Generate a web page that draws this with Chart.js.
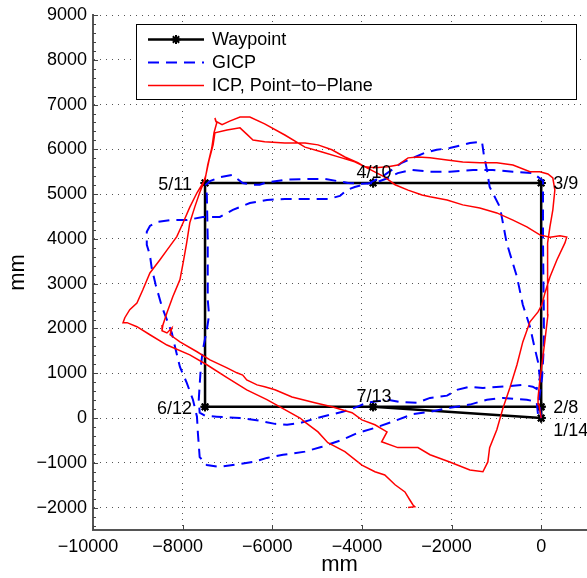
<!DOCTYPE html>
<html>
<head>
<meta charset="utf-8">
<title>Waypoint / GICP / ICP trajectories</title>
<script src="https://cdn.jsdelivr.net/npm/chart.js"></script>
<style>
  html, body { margin: 0; padding: 0; background: #fff; overflow: hidden; }
  #wrap { width: 587px; height: 578px; }
</style>
</head>
<body>
<div id="wrap"><canvas id="trajChart" width="587" height="578"></canvas></div>
<script>
/*
 * data (mm)
 */
const xTicks = [-10000, -8000, -6000, -4000, -2000, 0];
const yTicks = [-2000, -1000, 0, 1000, 2000, 3000, 4000, 5000, 6000, 7000, 8000, 9000];

// waypoints in the order they were visited (two laps)
const waypointPath = [
	[0, 0], [0, 250], [0, 5250], [-3750, 5250], [-7500, 5250], [-7500, 250], [-3750, 250],
	[0, 250], [0, 5250], [-3750, 5250], [-7500, 5250], [-7500, 250], [-3750, 250], [0, 0]
];
const waypointNames = ['1/14', '2/8', '3/9', '4/10', '5/11', '6/12', '7/13'];

// GICP estimate
const gicpPath = [
	[0, 0], [-50, 400], [20, 900], [60, 1600], [60, 2300], [50, 3100], [40, 4000], [40, 4800], [40, 5300],
	[-185, 5470], [-630, 5500], [-1080, 5540], [-1520, 5540], [-2040, 5500], [-2480, 5500], [-2890, 5540],
	[-3200, 5470], [-3420, 5360], [-3710, 5250], [-4000, 5230], [-4310, 5250], [-4540, 5290], [-4830, 5340],
	[-5210, 5340], [-5720, 5320], [-6170, 5250], [-6280, 5210], [-6430, 5210], [-6660, 5250], [-6900, 5430],
	[-7170, 5380], [-7390, 5290], [-7480, 5210],
	[-7460, 4980], [-7440, 3980], [-7440, 2640], [-7410, 2300], [-7460, 1970], [-7550, 1520], [-7590, 1190],
	[-7620, 740], [-7640, 410], [-7620, 120], [-7500, 50], [-7240, 30], [-6720, 0], [-6280, -60], [-5940, -130],
	[-5670, -150], [-5380, -110], [-5000, 0], [-4720, 70], [-4430, 140], [-4110, 250], [-3890, 340], [-3440, 410],
	[-3150, 360], [-2770, 340], [-2480, 450], [-2100, 500], [-1880, 630], [-1590, 700], [-1300, 670], [-920, 700],
	[-410, 740], [-190, 700], [-100, 650],
	[-30, 900], [-70, 1250], [-160, 1630], [-250, 2040], [-410, 2530], [-540, 3150], [-770, 3910], [-920, 4710],
	[-1150, 5160], [-1210, 5540], [-1280, 5880], [-1320, 6170],
	[-1590, 6140], [-1750, 6100], [-2040, 6030], [-2330, 5990], [-2600, 5920], [-3110, 5700], [-3490, 5430],
	[-3820, 5250], [-4160, 5160], [-4340, 5090], [-4490, 4960], [-4760, 4890], [-5380, 4890], [-5720, 4890],
	[-6120, 4870], [-6500, 4800], [-6880, 4650], [-7170, 4490], [-7550, 4490], [-7910, 4420], [-8280, 4420],
	[-8570, 4380], [-8730, 4290], [-8800, 4160],
	[-8800, 3870], [-8730, 3640], [-8690, 3350], [-8600, 2970], [-8460, 2480], [-8350, 2190], [-8240, 1900],
	[-8170, 1590], [-8060, 1140], [-7910, 790], [-7770, 410], [-7680, 30], [-7660, -330], [-7620, -870],
	[-7460, -1050], [-7170, -1090], [-6880, -1050], [-6430, -980], [-6120, -890], [-5760, -820], [-5270, -750],
	[-4890, -640], [-4450, -490], [-4090, -330], [-3710, -220], [-3260, -60], [-2860, 90], [-2480, 140],
	[-2040, 230], [-1590, 300], [-1210, 410], [-850, 450], [-320, 410], [-100, 360], [-70, 70]
];

// ICP (point-to-plane) estimate
const icpPath = [
	[0, 0], [-50, 300], [-70, 450], [-30, 850], [15, 1190], [80, 1700], [150, 2300], [130, 2860], [150, 3460],
	[150, 3910], [195, 4270], [260, 4650], [305, 5090], [260, 5360], [150, 5450], [-30, 5500], [-250, 5500],
	[-630, 5650], [-990, 5700], [-1370, 5700], [-1750, 5720], [-2100, 5760], [-2480, 5810], [-2750, 5830],
	[-2970, 5810], [-3200, 5650], [-3420, 5610], [-3710, 5590], [-3930, 5610], [-4090, 5700], [-4380, 5830],
	[-4670, 5990], [-4980, 6100], [-5270, 6140], [-5720, 6140], [-6170, 6170], [-6430, 6210], [-6570, 6340],
	[-6720, 6480], [-7010, 6430], [-7280, 6370], [-7320, 6100], [-7410, 5760], [-7480, 5430], [-7550, 5210],
	[-7620, 5030], [-7730, 4710], [-7840, 4360], [-7910, 3910], [-7990, 3460], [-8060, 3090], [-8220, 2710],
	[-8350, 2350], [-8440, 2080], [-8460, 1950], [-8350, 1900], [-8240, 2010], [-8280, 1860], [-8060, 1700],
	[-7680, 1480], [-7390, 1300], [-7010, 1120], [-6790, 1010], [-6660, 960], [-6570, 850], [-6340, 740],
	[-6170, 700], [-5940, 630], [-5560, 470], [-5050, 340], [-4670, 250], [-4220, 120], [-4000, -40],
	[-3710, -150], [-3440, -310], [-3560, -530], [-3200, -660], [-2750, -660], [-2480, -820], [-2040, -980],
	[-1590, -1160], [-1300, -1200], [-1190, -980], [-1150, -660], [-990, -260], [-850, 230], [-700, 670],
	[-540, 1190], [-410, 1700], [-250, 2150], [-70, 2370], [15, 2530], [85, 2800], [195, 3150], [350, 3530],
	[530, 3910], [570, 4040], [420, 4070], [195, 4040], [-30, 4090], [-320, 4270], [-630, 4420], [-990, 4580],
	[-1370, 4690], [-1750, 4760], [-2100, 4870], [-2480, 4940], [-2660, 4980], [-2970, 5090], [-3260, 5210],
	[-3490, 5380], [-3930, 5610], [-4160, 5720], [-4450, 5810], [-4890, 5940], [-5270, 6050], [-5720, 6320],
	[-6170, 6570], [-6500, 6720], [-6720, 6720], [-6950, 6630], [-7120, 6550], [-7260, 6630], [-7280, 6700],
	[-7240, 6590], [-7300, 6370], [-7350, 6030], [-7440, 5650], [-7500, 5320], [-7570, 5210], [-7680, 5030],
	[-7840, 4710], [-7990, 4360], [-8130, 4050], [-8350, 3750], [-8510, 3530], [-8730, 3240], [-8890, 2860],
	[-9020, 2570], [-9180, 2420], [-9290, 2240], [-9330, 2130], [-9240, 2130], [-9020, 2040], [-8730, 1860],
	[-8350, 1630], [-7840, 1410], [-7460, 1190], [-7010, 900], [-6570, 630], [-6120, 410], [-5380, 0],
	[-5270, -90], [-4980, -310], [-4760, -550], [-4380, -750], [-4000, -1050], [-3710, -1200], [-3490, -1270],
	[-3260, -1490], [-3040, -1650], [-2930, -1830], [-2860, -1940], [-2820, -1980], [-2970, -2000]
];


/*
 * helpers
 */
const FONT = '"Liberation Sans", Arial, Helvetica, sans-serif';
const toXY = path => path.map(p => ({ x: p[0], y: p[1] }));
const fmt = v => (v < 0 ? '\u2212' + Math.abs(v) : String(v));

const drawStar = (ctx, x, y, r) => {
	const d = r * Math.SQRT1_2;
	ctx.beginPath();
	ctx.moveTo(x - r, y); ctx.lineTo(x + r, y);
	ctx.moveTo(x, y - r); ctx.lineTo(x, y + r);
	ctx.moveTo(x - d, y - d); ctx.lineTo(x + d, y + d);
	ctx.moveTo(x - d, y + d); ctx.lineTo(x + d, y - d);
	ctx.stroke();
};

// no automatic label padding, the plot box is fixed by hand
const noPadding = s => {
	s.paddingLeft = 0;
	s.paddingRight = 0;
	s.paddingTop = 0;
	s.paddingBottom = 0;
};

// inward tick marks (major + minor on y)
const axisTicks = {
	id: 'axisTicks',
	beforeDatasetsDraw(chart) {
		const { ctx, chartArea: a, scales: { x, y } } = chart;
		ctx.save();
		ctx.strokeStyle = '#444';
		ctx.lineWidth = 1;
		ctx.beginPath();
		for (let v = -2400; v <= 9000; v += 200) {
			const py = Math.round(y.getPixelForValue(v)) + 0.5;
			const len = v % 1000 === 0 ? 5 : 3;
			ctx.moveTo(a.left, py);
			ctx.lineTo(a.left + len, py);
		}
		xTicks.forEach(v => {
			const px = Math.round(x.getPixelForValue(v)) + 0.5;
			ctx.moveTo(px, a.bottom);
			ctx.lineTo(px, a.bottom - 5);
		});
		ctx.stroke();
		ctx.restore();
	}
};

// text next to each waypoint
const waypointLabels = {
	id: 'waypointLabels',
	afterDatasetsDraw(chart) {
		const { ctx, scales: { x, y } } = chart;
		const side = ['belowRight', 'right', 'right', 'above', 'left', 'left', 'above'];
		ctx.save();
		ctx.font = '18px ' + FONT;
		ctx.fillStyle = '#000';
		ctx.textBaseline = 'middle';
		waypointNames.forEach((name, i) => {
			const px = x.getPixelForValue(waypointPath[i][0]);
			const py = y.getPixelForValue(waypointPath[i][1]);
			if (side[i] === 'right') {
				ctx.textAlign = 'left';
				ctx.fillText(name, px + 12, py + 1);
			} else if (side[i] === 'belowRight') {
				ctx.textAlign = 'left';
				ctx.fillText(name, px + 12, py + 13);
			} else if (side[i] === 'left') {
				ctx.textAlign = 'right';
				ctx.fillText(name, px - 13, py + 2);
			} else {
				ctx.textAlign = 'center';
				ctx.fillText(name, px + 1, py - 10);
			}
		});
		ctx.restore();
	}
};

// boxed legend inside the plot
const legendBox = {
	id: 'legendBox',
	afterDatasetsDraw(chart) {
		const ctx = chart.ctx;
		const order = [2, 1, 0];
		ctx.save();
		ctx.fillStyle = '#fff';
		ctx.fillRect(136.5, 24.5, 440, 75);
		ctx.strokeStyle = '#000';
		ctx.lineWidth = 1;
		ctx.strokeRect(136.5, 24.5, 440, 75);
		ctx.font = '18px ' + FONT;
		ctx.textAlign = 'left';
		ctx.textBaseline = 'middle';
		order.forEach((di, row) => {
			const ds = chart.data.datasets[di];
			const ly = 39.5 + row * 23;
			ctx.strokeStyle = ds.borderColor;
			ctx.lineWidth = ds.borderWidth;
			ctx.setLineDash(ds.borderDash || []);
			ctx.beginPath();
			ctx.moveTo(148, ly);
			ctx.lineTo(204, ly);
			ctx.stroke();
			ctx.setLineDash([]);
			if (ds.pointStyle === 'star') {
				ctx.lineWidth = ds.pointBorderWidth;
				drawStar(ctx, 176, ly, ds.pointRadius);
			}
			ctx.fillStyle = '#000';
			ctx.fillText(ds.label, 212, ly + 1);
		});
		ctx.restore();
	}
};


/*
 * chart
 */
const gridOpts = { color: '#555', lineWidth: 1, drawTicks: false };
const borderOpts = { display: true, color: '#555', width: 2, dash: [1, 5] };

new Chart(document.getElementById('trajChart'), {
	type: 'scatter',
	data: {
		datasets: [{
			label: 'ICP, Point\u2212to\u2212Plane',
			data: toXY(icpPath),
			showLine: true,
			borderColor: '#ff0000',
			borderWidth: 1.5,
			pointRadius: 0,
			order: 0
		}, {
			label: 'GICP',
			data: toXY(gicpPath),
			showLine: true,
			borderColor: '#0000ff',
			borderWidth: 2,
			borderDash: [11, 7],
			pointRadius: 0,
			order: 1
		}, {
			label: 'Waypoint',
			data: toXY(waypointPath),
			showLine: true,
			borderColor: '#000',
			backgroundColor: '#000',
			borderWidth: 2.5,
			pointStyle: 'star',
			pointRadius: 4.5,
			pointBorderWidth: 2,
			pointBorderColor: '#000',
			order: 2
		}]
	},
	options: {
		responsive: false,
		animation: false,
		devicePixelRatio: 1,
		layout: {
			autoPadding: false, // point radius would otherwise push the right edge in
			padding: { top: 15, right: 1, left: 0, bottom: 0 }
		},
		plugins: {
			legend: { display: false },
			tooltip: { enabled: false }
		},
		scales: {
			x: {
				type: 'linear',
				min: -10000,
				max: 1000,
				afterBuildTicks: s => { s.ticks = xTicks.map(v => ({ value: v })); },
				afterFit: s => { s.height = 48; noPadding(s); },
				grid: gridOpts,
				border: borderOpts,
				ticks: {
					padding: 6,
					color: '#000',
					maxRotation: 0,
					font: { family: FONT, size: 18 },
					// matlab puts the negative labels a little to the left
					callback: v => (v < 0 ? fmt(v) + '  ' : fmt(v))
				},
				title: {
					display: true,
					text: 'mm',
					color: '#000',
					font: { family: FONT, size: 22 },
					padding: { top: 0, bottom: 0 }
				}
			},
			y: {
				type: 'linear',
				min: -2500,
				max: 9000,
				afterBuildTicks: s => { s.ticks = yTicks.map(v => ({ value: v })); },
				afterFit: s => { s.width = 93; noPadding(s); },
				grid: gridOpts,
				border: borderOpts,
				ticks: {
					padding: 6,
					color: '#000',
					font: { family: FONT, size: 18 },
					callback: v => fmt(v)
				},
				title: {
					display: true,
					text: 'mm',
					color: '#000',
					font: { family: FONT, size: 22 },
					padding: { top: 5, bottom: 0 }
				}
			}
		}
	},
	plugins: [axisTicks, waypointLabels, legendBox]
});
</script>
</body>
</html>
